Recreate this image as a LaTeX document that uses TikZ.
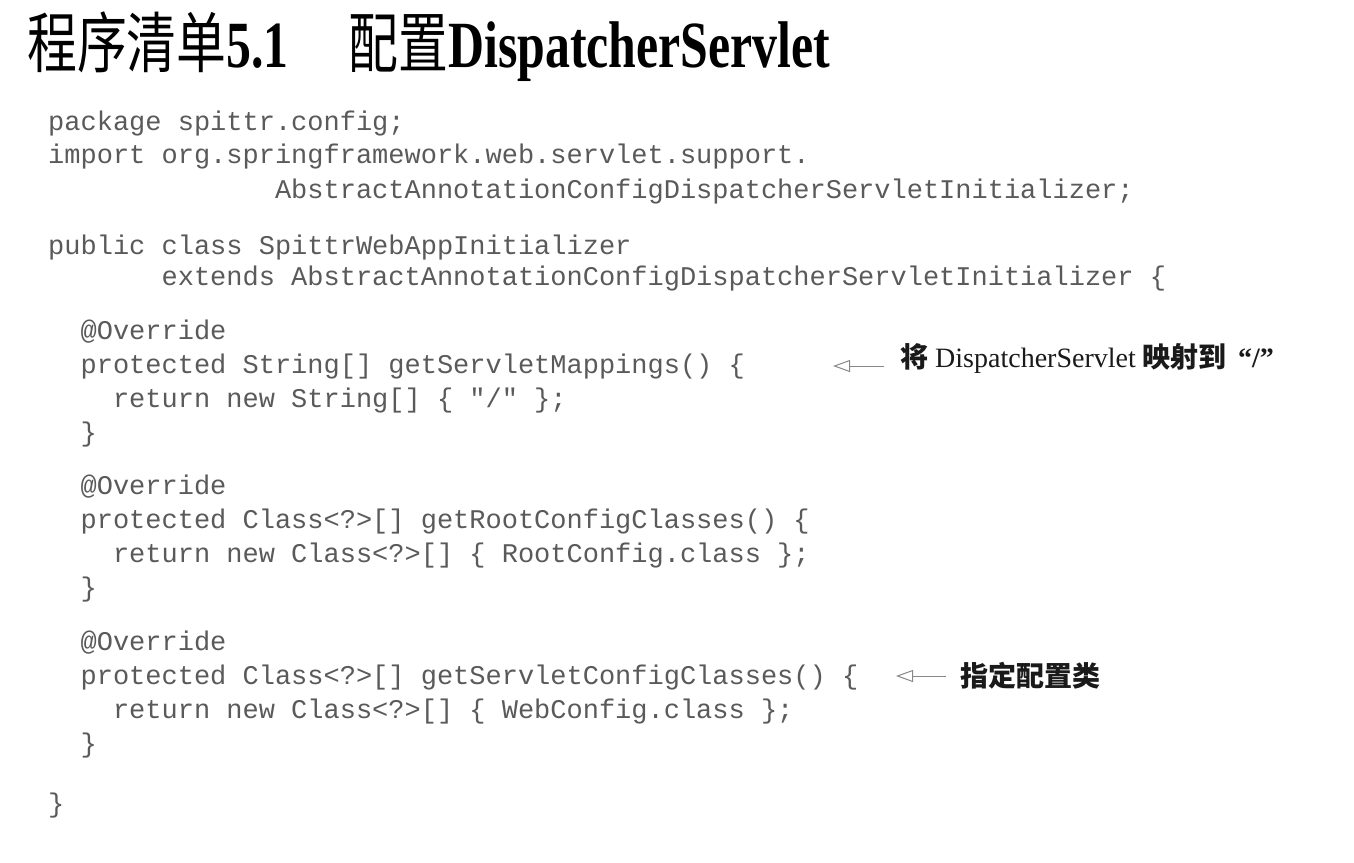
\documentclass[tikz,border=0pt]{standalone}
\usepackage{fontspec}
\usepackage{graphicx}
\setmainfont{Liberation Serif}
\newfontfamily\codefont{Liberation Mono}
\newfontfamily\cjk{Noto Sans CJK SC}
\usetikzlibrary{arrows.meta}
\definecolor{codegray}{HTML}{5A5A5A}
\definecolor{arrgray}{HTML}{888888}
\definecolor{annblack}{HTML}{1A1A1A}
\tikzset{
  codeline/.style={anchor=base west, inner sep=0pt, text=codegray, font=\codefont\fontsize{27}{32}\selectfont},
  annot/.style={anchor=base west, inner sep=0pt, text=annblack, font=\fontsize{28}{32}\selectfont},
  notearrow/.style={draw=arrgray, line width=1pt, -{Triangle[open, length=17pt, width=12pt, line width=1pt]}},
}
\begin{document}
\begin{tikzpicture}[x=1pt, y=-1pt]
\useasboundingbox[fill=white] (0,0) rectangle (1354,862);
\def\cw{16.2}
% title
\node[anchor=base west, inner sep=0pt] (title) at (27,67)
  {\fontsize{66}{72}\selectfont\scalebox{0.755}[1]{{\cjk 程序清单}{\bfseries 5.1}\hspace{1.2em}{\cjk 配置}{\bfseries DispatcherServlet}}};
% code
\node[codeline] (l1)  at (48,130) {package spittr.config;};
\node[codeline] (l2)  at (48,163) {import org.springframework.web.servlet.support.};
\node[codeline] (l3)  at (48+14*\cw,198) {AbstractAnnotationConfigDispatcherServletInitializer;};
\node[codeline] (l4)  at (48,254) {public class SpittrWebAppInitializer};
\node[codeline] (l5)  at (48+7*\cw,285) {extends AbstractAnnotationConfigDispatcherServletInitializer \{};
\node[codeline] (l6)  at (48+2*\cw,339) {@Override};
\node[codeline] (l7)  at (48+2*\cw,373) {protected String[] getServletMappings() \{};
\node[codeline] (l8)  at (48+4*\cw,407) {return new String[] \{ "/" \};};
\node[codeline] (l9)  at (48+2*\cw,441) {\}};
\node[codeline] (l10) at (48+2*\cw,494) {@Override};
\node[codeline] (l11) at (48+2*\cw,528) {protected Class<?>[] getRootConfigClasses() \{};
\node[codeline] (l12) at (48+4*\cw,562) {return new Class<?>[] \{ RootConfig.class \};};
\node[codeline] (l13) at (48+2*\cw,596) {\}};
\node[codeline] (l14) at (48+2*\cw,650) {@Override};
\node[codeline] (l15) at (48+2*\cw,684) {protected Class<?>[] getServletConfigClasses() \{};
\node[codeline] (l16) at (48+4*\cw,718) {return new Class<?>[] \{ WebConfig.class \};};
\node[codeline] (l17) at (48+2*\cw,752) {\}};
\node[codeline] (l18) at (48,812) {\}};
% annotations
\node[annot] (ann1) at (900,367) {{\cjk\bfseries 将} DispatcherServlet {\cjk\bfseries 映射到}\hspace{0.4em}{\bfseries “/”}};
\node[annot] (ann2) at (960,686) {\cjk\bfseries 指定配置类};
\coordinate (s1) at (884,366);
\coordinate (t1) at (833,366);
\coordinate (s2) at (946,676);
\coordinate (t2) at (896,676);
\draw[notearrow] (s1) -- (t1);
\draw[notearrow] (s2) -- (t2);
\end{tikzpicture}
\end{document}
